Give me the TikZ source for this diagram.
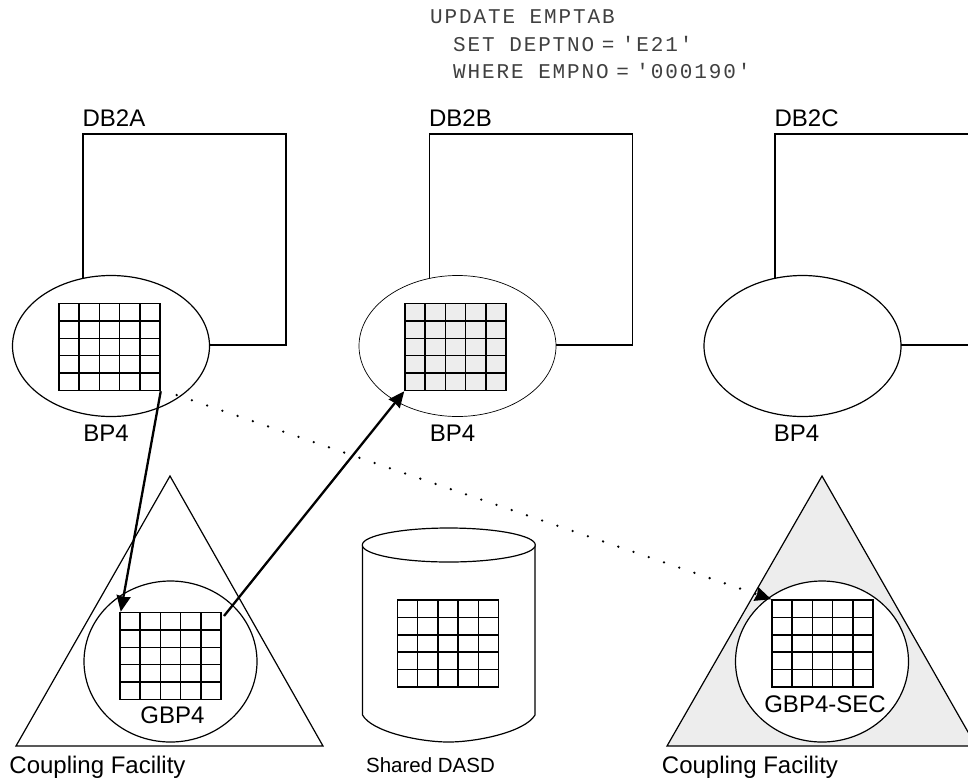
\documentclass[tikz,border=0pt]{standalone}
\usepackage{fontspec}
\setmainfont{Liberation Sans}
\newfontfamily\codefont[LetterSpace=9]{Liberation Mono}
\newcommand{\eqsign}{\hspace{-7pt} = \hspace{-7pt}}
\usepackage{tikz}
\usetikzlibrary{arrows.meta,calc,shapes.geometric}

\tikzset{
  membox/.style={draw,line width=1.2pt,minimum width=203pt,minimum height=211pt,inner sep=0pt},
  pool/.style={ellipse,draw,fill=white,line width=1.2pt,minimum width=197pt,minimum height=141pt,inner sep=0pt},
  gpool/.style={ellipse,draw,fill=white,line width=1.2pt,minimum width=173pt,minimum height=161pt,inner sep=0pt},
  cellgrid/.style={draw,line width=1.5pt,minimum width=101pt,minimum height=87pt,inner sep=0pt,
    path picture={
      \foreach \i in {1,...,4} {
        \draw[line width=1.5pt] ($(path picture bounding box.south west)!\i/5!(path picture bounding box.south east)$) -- ++(0,-87);
        \draw[line width=1.5pt] ($(path picture bounding box.south west)!\i/5!(path picture bounding box.north west)$) -- ++(101,0);
      }
    }},
  lbl/.style={font=\fontsize{24}{28}\selectfont,inner sep=0pt},
  flow/.style={-{Stealth[length=16pt,width=14pt,inset=1pt]},line width=2.3pt},
}

\begin{document}
\begin{tikzpicture}[x=1pt,y=-1pt]
    \clip (0,0) rectangle (968,782);

    \node[inner sep=0pt,anchor=north west,align=left,text=black!75,font=\codefont\fontsize{21}{27.7}\selectfont] (stmt) at (430,9.5)
      {UPDATE EMPTAB\\\hspace*{23pt}SET DEPTNO\eqsign'E21'\\\hspace*{23pt}WHERE EMPNO\eqsign'000190'};

    % members
    \node[membox] (boxA) at (184.5,239.5) {};
    \node[membox] (boxB) at (531,239.5) {};
    \node[membox] (boxC) at (876.5,239.5) {};
    \node[lbl,anchor=south west] (nameA) at ([yshift=6.5pt]boxA.north west) {DB2A};
    \node[lbl,anchor=south west] (nameB) at ([yshift=6.5pt]boxB.north west) {DB2B};
    \node[lbl,anchor=south west] (nameC) at ([yshift=6.5pt]boxC.north west) {DB2C};

    \node[pool] (poolA) at (111,346) {};
    \node[pool,line width=.7pt] (poolB) at (457.5,346) {};
    \node[pool] (poolC) at (802.5,346) {};
    \node[cellgrid] (gridA) at (109.5,347) {};
    \node[cellgrid,fill=black!7] (gridB) at (455.5,347) {};
    \node[lbl] (bpA) at (106,433) {BP4};
    \node[lbl] (bpB) at (452.5,433) {BP4};
    \node[lbl] (bpC) at (796.5,433) {BP4};

    % coupling facilities
    \draw[line width=1.2pt] (170,476) -- (323,746) -- (16,746) -- cycle;
    \draw[line width=1.2pt,fill=black!7] (822,476) -- (976,746) -- (667,746) -- cycle;
    \node[gpool] (gpoolA) at (170.5,661.5) {};
    \node[gpool] (gpoolC) at (822,661.5) {};
    \node[cellgrid] (gbpA) at (170.5,656) {};
    \node[cellgrid] (gbpC) at (822.5,643.5) {};
    \node[lbl] (gbpnameA) at (172.5,715) {GBP4};
    \node[lbl] (gbpnameC) at (825,704) {GBP4-SEC};
    \node[lbl] (cfA) at (97.5,767) {Coupling Facility};
    \node[lbl] (cfC) at (750,767) {Coupling Facility};

    % shared disk
    \draw[line width=1.2pt] (362.5,546) -- (362.5,715) .. controls (372,732) and (420,742) .. (448.5,742) .. controls (477,742) and (525,732) .. (535,715) -- (535,546);
    \node[ellipse,draw,fill=white,line width=1.2pt,minimum width=173pt,minimum height=34pt,inner sep=0pt] (dasd) at (448.8,545) {};
    \node[cellgrid] (gridD) at (448,643.5) {};
    \node[lbl,font=\fontsize{20.5}{24}\selectfont] (dasdname) at (430.5,765) {Shared DASD};

    % page flows
    \coordinate (gbpout) at (224,616);
    \coordinate (dotstart) at (176.7,395);
    \draw[flow] (gridA.south east) -- ([xshift=1.5pt]gbpA.north west);
    \draw[flow] (gbpout) -- (gridB.south west);
    \draw[flow,line width=2.6pt,line cap=round,dash pattern=on 0pt off 16.1pt] (dotstart) -- (gbpC.north west);
\end{tikzpicture}
\end{document}
